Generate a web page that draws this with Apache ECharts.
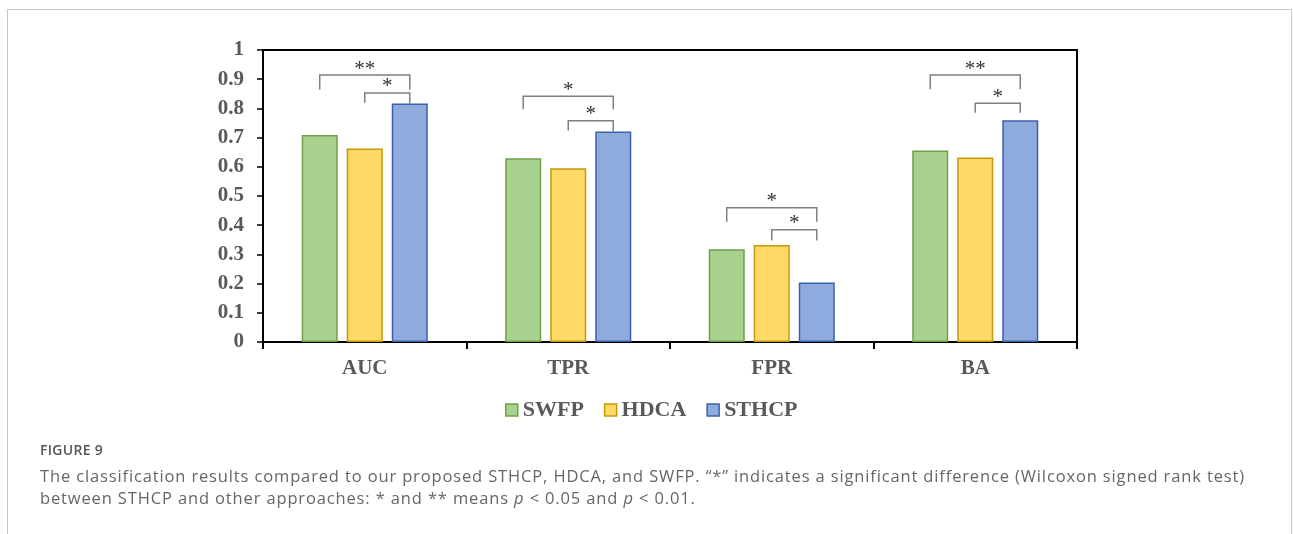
<!DOCTYPE html>
<html>
<head>
<meta charset="utf-8">
<script src="https://cdn.jsdelivr.net/npm/echarts@6/dist/echarts.min.js"></script>
<style>
  html, body { margin: 0; padding: 0; background: #fff; }
  #wrap { position: relative; width: 1293px; height: 534px; overflow: hidden; }
  #frame { position: absolute; left: 7px; top: 9px; width: 1285px; height: 600px; border: 1px solid #c8c8c8; box-sizing: border-box; }
  #chart { position: absolute; left: 0; top: 0; width: 1293px; height: 534px; }
  #figlabel { position: absolute; left: 40px; top: 440px; font-family: "Open Sans", sans-serif; font-size: 14px; font-weight: 600; color: #555; letter-spacing: 0.3px; }
  #caption { position: absolute; left: 40px; top: 465px; width: 1240px; white-space: nowrap; font-family: "Open Sans", sans-serif; font-size: 16.5px; letter-spacing: 0.86px; line-height: 22px; color: #666; }
</style>
</head>
<body>
<div id="wrap">
  <div id="frame"></div>
  <div id="chart"></div>
  <div id="figlabel">FIGURE 9</div>
  <div id="caption">The classification results compared to our proposed STHCP, HDCA, and SWFP. “*” indicates a significant difference (Wilcoxon signed rank test)<br>between STHCP and other approaches: * and ** means <i>p</i> &lt; 0.05 and <i>p</i> &lt; 0.01.</div>
</div>
<script>
// ---- data ----
const categories = ['AUC', 'TPR', 'FPR', 'BA'];
const seriesNames = ['SWFP', 'HDCA', 'STHCP'];
const swfp  = [0.709, 0.629, 0.318, 0.656];
const hdca  = [0.663, 0.595, 0.332, 0.632];
const sthcp = [0.817, 0.721, 0.204, 0.759];
// significance brackets: [categoryIndex, fromSeries, toSeries, topValue, leftLegEnd, rightLegEnd]
const brackets = [
  [0, 0, 2, 0.914, 0.865, 0.865],
  [0, 1, 2, 0.853, 0.819, 0.817],
  [1, 0, 2, 0.842, 0.797, 0.797],
  [1, 1, 2, 0.758, 0.724, 0.721],
  [2, 0, 2, 0.460, 0.412, 0.412],
  [2, 1, 2, 0.384, 0.348, 0.348],
  [3, 0, 2, 0.914, 0.866, 0.866],
  [3, 1, 2, 0.818, 0.785, 0.785]
];
const bracketLabels = ['**', '*', '*', '*', '*', '*', '**', '*'];

const fills = ['#a9d18e', '#ffd966', '#8faadc'];
const borders = ['#6fa049', '#c49a0c', '#3a62aa'];
const BAR_FRAC = 0.177;   // bar width as share of category band
const GAP_RATIO = 0.25;   // barGap

const chart = echarts.init(document.getElementById('chart'), null, { renderer: 'canvas' });
const serif = '"Liberation Serif", "Times New Roman", serif';

function barSeries(name, data, i) {
  return {
    name: name, type: 'bar', data: data,
    barWidth: (BAR_FRAC * 100) + '%', barGap: (GAP_RATIO * 100) + '%',
    itemStyle: { color: fills[i], borderColor: borders[i], borderWidth: 1.5 },
    z: 2
  };
}

const option = {
  animation: false,
  grid: { left: 263, top: 50, width: 814, height: 292, show: true, borderColor: '#000', borderWidth: 2, backgroundColor: 'transparent' },
  legend: {
    left: 505, top: 399, padding: 0,
    itemWidth: 12, itemHeight: 12, itemGap: 20,
    icon: 'rect',
    textStyle: { fontFamily: serif, fontWeight: 'bold', fontSize: 22, color: '#595959' },
    data: seriesNames.map((n, i) => ({ name: n, itemStyle: { color: fills[i], borderColor: borders[i], borderWidth: 1.5 } }))
  },
  xAxis: {
    type: 'category', data: categories,
    axisLine: { lineStyle: { color: '#000', width: 2 } },
    axisTick: { show: true, length: 7, lineStyle: { color: '#000', width: 2 } },
    axisLabel: { fontFamily: serif, fontWeight: 'bold', fontSize: 21, color: '#595959', margin: 16 }
  },
  yAxis: {
    type: 'value', min: 0, max: 1, interval: 0.1,
    splitLine: { show: false },
    axisLine: { show: true, lineStyle: { color: '#000', width: 2 } },
    axisTick: { show: true, length: 6, lineStyle: { color: '#000', width: 1.5 } },
    axisLabel: { fontFamily: serif, fontWeight: 'bold', fontSize: 21, color: '#595959', margin: 19,
      formatter: v => (Math.round(v * 10) / 10).toString() }
  },
  series: [
    barSeries(seriesNames[0], swfp, 0),
    barSeries(seriesNames[1], hdca, 1),
    barSeries(seriesNames[2], sthcp, 2),
    {
      type: 'custom', name: 'sig', data: brackets, z: 5, silent: true,
      encode: { x: 0, y: 3 },
      renderItem: function (params, api) {
        const cat = api.value(0);
        const from = api.value(1), to = api.value(2);
        const band = api.size([1, 0])[0];
        const barW = band * BAR_FRAC;
        const step = barW * (1 + GAP_RATIO);
        const cx = api.coord([cat, 0])[0];
        const x1 = cx + (from - 1) * step;
        const x2 = cx + (to - 1) * step;
        const yTop = api.coord([cat, api.value(3)])[1];
        const yL = api.coord([cat, api.value(4)])[1];
        const yR = api.coord([cat, api.value(5)])[1];
        const lineStyle = { stroke: '#7f7f7f', lineWidth: 1.5, fill: null };
        return {
          type: 'group',
          children: [
            { type: 'polyline', shape: { points: [[x1, yL], [x1, yTop], [x2, yTop], [x2, yR]] }, style: lineStyle },
            { type: 'text', x: (x1 + x2) / 2, y: yTop - 6,
              style: { text: bracketLabels[params.dataIndex], fontFamily: serif, fontSize: 21, fill: '#333', align: 'center', verticalAlign: 'middle' } }
          ]
        };
      }
    }
  ]
};
chart.setOption(option);
</script>
</body>
</html>
